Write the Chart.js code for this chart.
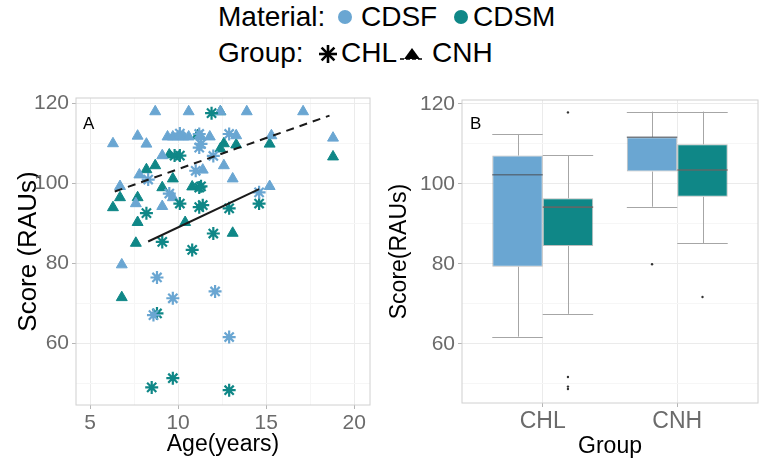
<!DOCTYPE html>
<html>
<head>
<meta charset="utf-8">
<script src="https://cdn.jsdelivr.net/npm/chart.js@4"></script>
<style>
body { margin: 0; background: #fff; font-family: 'Liberation Sans', Arial, sans-serif; }
#wrap { position: relative; width: 762px; height: 461px; overflow: hidden; }
.lg { position: absolute; font-size: 28px; line-height: 28px; color: #000; white-space: nowrap; }
.tag { position: absolute; font-size: 17px; line-height: 17px; color: #000; }
canvas { position: absolute; top: 80px; }
svg { position: absolute; }
</style>
</head>
<body>
<div id="wrap">
  <div class="lg" style="left:218px;top:3px">Material:</div>
  <svg style="left:337px;top:9px" width="16" height="16"><circle cx="8" cy="8" r="7" fill="#6aa6d2"/></svg>
  <div class="lg" style="left:361px;top:3px">CDSF</div>
  <svg style="left:453px;top:9px" width="16" height="16"><circle cx="8" cy="8" r="7" fill="#0f8787"/></svg>
  <div class="lg" style="left:473px;top:3px">CDSM</div>

  <div class="lg" style="left:218px;top:39px">Group:</div>
  <svg style="left:318px;top:44px" width="20" height="20">
    <g stroke="#000" stroke-width="2.6">
      <line x1="10" y1="1" x2="10" y2="19"/><line x1="1" y1="10" x2="19" y2="10"/>
      <line x1="3.6" y1="3.6" x2="16.4" y2="16.4"/><line x1="16.4" y1="3.6" x2="3.6" y2="16.4"/>
    </g>
  </svg>
  <div class="lg" style="left:341px;top:39px">CHL</div>
  <svg style="left:399px;top:45px" width="26" height="17">
    <line x1="1" y1="14" x2="25" y2="14" stroke="#000" stroke-width="1.5" stroke-dasharray="4 2"/>
    <polygon points="13,3 5,14 21,14" fill="#000"/>
  </svg>
  <div class="lg" style="left:432px;top:39px">CNH</div>

  <canvas id="chartA" width="380" height="381" style="left:0"></canvas>
  <canvas id="chartB" width="382" height="381" style="left:380px"></canvas>
  <div class="tag" style="left:83px;top:115px">A</div>
  <div class="tag" style="left:470px;top:115px">B</div>
</div>
<script>
// panel A: scatter of score vs age
const ageCdsfChl = [10.1, 11.2, 12.9, 11.2, 11.3, 12.0, 11.0, 8.3, 9.5, 14.6, 8.8, 12.1, 9.7, 8.6, 12.9];
const scoreCdsfChl = [112.5, 112.4, 112.4, 109.0, 109.9, 106.9, 103.2, 101.0, 97.5, 97.8, 76.5, 73.0, 71.3, 67.1, 61.6];

const ageCdsmChl = [11.9, 9.8, 10.1, 11.2, 11.3, 10.1, 11.2, 11.4, 12.9, 14.6, 8.2, 12.0, 9.1, 10.8, 8.8, 8.5, 9.7, 12.9];
const scoreCdsmChl = [117.6, 107.0, 107.0, 99.0, 99.3, 95.0, 94.1, 94.6, 93.8, 95.0, 92.6, 87.5, 85.4, 83.4, 67.5, 49.0, 51.3, 48.3];

const ageCdsfCnh = [8.7, 10.6, 12.4, 13.9, 17.1, 6.3, 7.7, 8.2, 9.4, 9.7, 10.0, 10.3, 10.6, 11.8, 13.3, 15.3, 18.8,
  9.1, 7.8, 6.7, 7.6, 9.7, 9.1, 11.4, 12.6, 13.1, 15.2, 6.8, 11.3];
const scoreCdsfCnh = [118.0, 118.0, 118.0, 118.0, 118.0, 110.0, 111.9, 109.9, 111.7, 111.7, 111.7, 111.7, 111.7, 111.7, 112.0, 112.0, 111.4,
  107.0, 102.2, 99.3, 95.0, 96.5, 94.3, 103.4, 104.5, 101.2, 99.3, 79.7, 111.7];

const ageCdsmCnh = [12.4, 11.1, 9.5, 8.2, 8.7, 9.7, 6.7, 6.3, 7.7, 9.1, 10.8, 7.7, 10.4, 7.6, 6.8, 12.6, 13.3, 15.2, 18.8, 12.4, 13.1];
const scoreCdsmCnh = [118.0, 112.0, 107.2, 103.5, 104.5, 101.2, 96.5, 94.0, 96.5, 99.0, 99.2, 90.3, 90.3, 85.1, 71.5, 110.0, 109.7, 109.9, 106.7, 108.7, 87.6];

// fitted lines (end points)
const chlFitAge = [8.3, 14.6];
const chlFitScore = [85.5, 98.6];
const cnhFitAge = [6.4, 18.6];
const cnhFitScore = [98.0, 117.0];

const ageTicks = [5, 10, 15, 20];
const ageMinor = [7.5, 12.5, 17.5];
const scoreTicks = [60, 80, 100, 120];
const scoreMinor = [50, 70, 90, 110];

// panel B: box plot stats per group
const groups = ['CHL', 'CNH'];
const groupPos = [1, 2];
const cdsfMin = [61.8, 94.3];
const cdsfQ1 = [79.3, 103.1];
const cdsfMed = [102.3, 111.7];
const cdsfQ3 = [107.1, 111.7];
const cdsfMax = [112.5, 118.1];
const cdsfOut = [[], [79.9]];
const cdsmMin = [67.5, 85.2];
const cdsmQ1 = [84.5, 96.8];
const cdsmMed = [94.2, 103.5];
const cdsmQ3 = [96.4, 109.9];
const cdsmMax = [107.2, 118.1];
const cdsmOut = [[117.9, 51.7, 49.3, 48.7], [71.7]];

const lightBlue = '#6aa6d2';
const teal = '#0f8787';
const fontFamily = "'Liberation Sans', Arial, sans-serif";
Chart.defaults.font.family = fontFamily;

function pts(xs, ys) {
    return xs.map((x, i) => ({ x: x, y: ys[i] }));
}

function isIn(list, v) {
    return list.some(t => Math.abs(t - v) < 1e-6);
}

const panelBorder = {
    id: 'panelBorder',
    beforeDatasetsDraw(chart) {
        const { ctx, chartArea: a } = chart;
        ctx.save();
        ctx.strokeStyle = '#d0d0d0';
        ctx.lineWidth = 1;
        ctx.strokeRect(a.left, a.top, a.right - a.left, a.bottom - a.top);
        ctx.restore();
    }
};

function yScaleOpts(min, max, titleText, titleSize, titlePad, width) {
    return {
        type: 'linear',
        min: min,
        max: max,
        afterBuildTicks: s => { s.ticks = scoreMinor.concat(scoreTicks).sort((a, b) => a - b).map(v => ({ value: v })); },
        afterFit: s => { s.width = width; },
        border: { display: false },
        grid: {
            color: c => isIn(scoreTicks, c.tick.value) ? '#ebebeb' : '#f6f6f6',
            tickColor: c => isIn(scoreTicks, c.tick.value) ? '#b5b5b5' : 'rgba(0,0,0,0)',
            tickLength: 4
        },
        ticks: {
            autoSkip: false,
            padding: 3,
            color: '#6b6b6b',
            font: { size: 21 },
            callback: v => isIn(scoreTicks, v) ? v : ''
        },
        title: { display: true, text: titleText, color: '#000', font: { size: titleSize }, padding: { top: titlePad, bottom: 0 } }
    };
}

function pointSet(xs, ys, style, color, radius) {
    return {
        data: pts(xs, ys),
        pointStyle: style,
        pointRadius: radius,
        pointHoverRadius: radius,
        pointBackgroundColor: color,
        pointBorderColor: color,
        pointBorderWidth: style === 'star' ? 2.2 : 1
    };
}

new Chart(document.getElementById('chartA'), {
    type: 'scatter',
    data: {
        datasets: [
            { type: 'line', data: pts(chlFitAge, chlFitScore), borderColor: '#1a1a1a', borderWidth: 2, pointRadius: 0, fill: false },
            { type: 'line', data: pts(cnhFitAge, cnhFitScore), borderColor: '#1a1a1a', borderWidth: 2, borderDash: [8, 6], pointRadius: 0, fill: false },
            pointSet(ageCdsfChl, scoreCdsfChl, 'star', lightBlue, 6.5),
            pointSet(ageCdsmChl, scoreCdsmChl, 'star', teal, 6.5),
            pointSet(ageCdsfCnh, scoreCdsfCnh, 'triangle', lightBlue, 6.3),
            pointSet(ageCdsmCnh, scoreCdsmCnh, 'triangle', teal, 6.3)
        ]
    },
    options: {
        responsive: false,
        animation: false,
        layout: { padding: { top: 18, right: 10, left: 0, bottom: 0 } },
        plugins: { legend: { display: false }, tooltip: { enabled: false } },
        scales: {
            x: {
                type: 'linear',
                min: 4.2,
                max: 20.9,
                afterBuildTicks: s => { s.ticks = ageMinor.concat(ageTicks).sort((a, b) => a - b).map(v => ({ value: v })); },
                afterFit: s => { s.height = 56; },
                border: { display: false },
                grid: {
                    color: c => isIn(ageTicks, c.tick.value) ? '#ebebeb' : '#f6f6f6',
                    tickColor: c => isIn(ageTicks, c.tick.value) ? '#b5b5b5' : 'rgba(0,0,0,0)',
                    tickLength: 4
                },
                ticks: {
                    autoSkip: false,
                    maxRotation: 0,
                    padding: 2,
                    color: '#6b6b6b',
                    font: { size: 21 },
                    callback: v => isIn(ageTicks, v) ? v : ''
                },
                title: { display: true, text: 'Age(years)', color: '#000', font: { size: 23 }, padding: { top: 0, bottom: 3 } }
            },
            y: yScaleOpts(44.6, 121.4, 'Score (RAUs)', 26, 13, 76)
        }
    },
    plugins: [panelBorder]
});

// whiskers, medians and outliers on top of the floating bars
const boxStats = [
    { min: cdsfMin, med: cdsfMed, max: cdsfMax, out: cdsfOut, medColor: 'rgba(80,90,100,0.75)' },
    { min: cdsmMin, med: cdsmMed, max: cdsmMax, out: cdsmOut, medColor: 'rgba(120,95,95,0.75)' }
];
const q1s = [cdsfQ1, cdsmQ1];
const q3s = [cdsfQ3, cdsmQ3];

const boxParts = {
    id: 'boxParts',
    afterDatasetsDraw(chart) {
        const ctx = chart.ctx;
        const y = chart.scales.y;
        ctx.save();
        boxStats.forEach((st, d) => {
            chart.getDatasetMeta(d).data.forEach((el, i) => {
                const half = el.width / 2;
                const x = Math.round(el.x) + 0.5;
                ctx.strokeStyle = '#a6a6a6';
                ctx.lineWidth = 1;
                ctx.beginPath();
                ctx.moveTo(x, y.getPixelForValue(st.max[i]));
                ctx.lineTo(x, y.getPixelForValue(q3s[d][i]));
                ctx.moveTo(x, y.getPixelForValue(q1s[d][i]));
                ctx.lineTo(x, y.getPixelForValue(st.min[i]));
                [st.max[i], st.min[i]].forEach(v => {
                    const py = Math.round(y.getPixelForValue(v)) + 0.5;
                    ctx.moveTo(el.x - half, py);
                    ctx.lineTo(el.x + half, py);
                });
                ctx.stroke();

                ctx.strokeStyle = st.medColor;
                ctx.lineWidth = 1.6;
                ctx.beginPath();
                const pm = y.getPixelForValue(st.med[i]);
                ctx.moveTo(el.x - half, pm);
                ctx.lineTo(el.x + half, pm);
                ctx.stroke();

                ctx.fillStyle = '#333';
                st.out[i].forEach(v => {
                    ctx.beginPath();
                    ctx.arc(el.x, y.getPixelForValue(v), 1.2, 0, Math.PI * 2);
                    ctx.fill();
                });
            });
        });
        ctx.restore();
    }
};

new Chart(document.getElementById('chartB'), {
    type: 'bar',
    data: {
        datasets: [
            {
                label: 'CDSF',
                data: groupPos.map((x, i) => ({ x: x, y: [cdsfQ1[i], cdsfQ3[i]] })),
                backgroundColor: lightBlue,
                borderColor: 'rgba(110,110,110,0.45)',
                borderWidth: 1,
                borderSkipped: false
            },
            {
                label: 'CDSM',
                data: groupPos.map((x, i) => ({ x: x, y: [cdsmQ1[i], cdsmQ3[i]] })),
                backgroundColor: teal,
                borderColor: 'rgba(110,110,110,0.45)',
                borderWidth: 1,
                borderSkipped: false
            }
        ]
    },
    options: {
        responsive: false,
        animation: false,
        layout: { padding: { top: 20, right: 4, left: 0, bottom: 0 } },
        datasets: { bar: { categoryPercentage: 0.75, barPercentage: 1 } },
        plugins: { legend: { display: false }, tooltip: { enabled: false } },
        scales: {
            x: {
                type: 'linear',
                min: 0.4,
                max: 2.6,
                offset: false,
                afterBuildTicks: s => { s.ticks = groupPos.map(v => ({ value: v })); },
                afterFit: s => { s.height = 58; },
                border: { display: false },
                grid: { offset: false, color: '#ebebeb', tickColor: '#b5b5b5', tickLength: 4 },
                ticks: {
                    autoSkip: false,
                    maxRotation: 0,
                    padding: 1,
                    color: '#6b6b6b',
                    font: { size: 23 },
                    callback: v => groups[groupPos.indexOf(v)] || ''
                },
                title: { display: true, text: 'Group', color: '#000', font: { size: 23 }, padding: { top: 0, bottom: 1 } }
            },
            y: yScaleOpts(45.2, 121, 'Score(RAUs)', 23, 6, 82)
        }
    },
    plugins: [panelBorder, boxParts]
});
</script>
</body>
</html>
